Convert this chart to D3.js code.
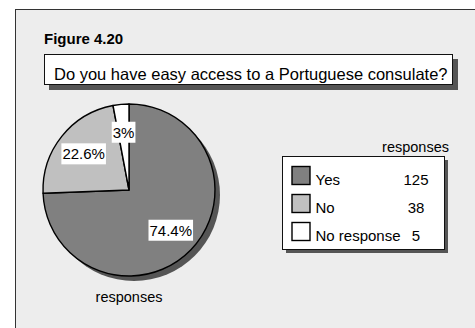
<!DOCTYPE html>
<html>
<head>
<meta charset="utf-8">
<script src="https://cdn.jsdelivr.net/npm/d3@7"></script>
<style>
  html, body { margin: 0; padding: 0; background: #fff; }
  svg { display: block; font-family: "Liberation Sans", Arial, Helvetica, sans-serif; }
</style>
</head>
<body>
<div id="chart"></div>
<script>
// data
var categories = ["Yes", "No", "No response"]
var responses = [125, 38, 5]
var sliceColors = ["#808080", "#c0c0c0", "#ffffff"]
var figureLabel = "Figure 4.20"
var question = "Do you have easy access to a Portuguese consulate?"
var seriesName = "responses"

var width = 475, height = 328
var total = d3.sum(responses)
var pct = d3.format(".1~f")

var svg = d3.select("#chart").append("svg")
    .attr("width", width)
    .attr("height", height)

// outer frame (runs off the right / bottom of the window)
svg.append("rect")
    .attr("x", 15.5).attr("y", 9.5)
    .attr("width", width).attr("height", height)
    .style("fill", "#ededed")
    .style("stroke", "#333")
    .style("stroke-width", 1)

svg.append("text")
    .attr("x", 44).attr("y", 43.5)
    .style("font-size", "15px")
    .style("font-weight", "bold")
    .text(figureLabel)

// title box with shadow
svg.append("rect")
    .attr("x", 49).attr("y", 59)
    .attr("width", 409).attr("height", 31)
    .style("fill", "#555")
svg.append("rect")
    .attr("x", 44.5).attr("y", 54.5)
    .attr("width", 408).attr("height", 30)
    .style("fill", "#fff")
    .style("stroke", "#111")
    .style("stroke-width", 1)
svg.append("text")
    .attr("x", 54).attr("y", 79.5)
    .style("font-size", "16.5px")
    .text(question)

// pie
var cx = 129, cy = 190, r = 86
var pie = d3.pie().sort(null).value(d => d)
var arcs = pie(responses)
var arc = d3.arc().innerRadius(0).outerRadius(r)
var labelArc = d3.arc().innerRadius(58).outerRadius(58)

var g = svg.append("g").attr("transform", "translate(" + cx + "," + cy + ")")

g.append("circle")
    .attr("cx", 5).attr("cy", 5).attr("r", r)
    .style("fill", "#555")

g.selectAll("path.slice")
    .data(arcs)
    .enter()
    .append("path")
    .attr("class", "slice")
    .attr("d", arc)
    .style("fill", (d, i) => sliceColors[i])
    .style("stroke", "#000")
    .style("stroke-width", 1.4)
    .style("stroke-linejoin", "round")

var labels = g.selectAll("g.lab")
    .data(arcs)
    .enter()
    .append("g")
    .attr("class", "lab")
    .attr("transform", d => "translate(" + labelArc.centroid(d) + ")")

labels.each(function(d) {
    var lg = d3.select(this)
    var t = lg.append("text")
        .attr("text-anchor", "middle")
        .attr("y", 5.5)
        .style("font-size", "15px")
        .text(pct(d.value / total * 100) + "%")
    var bb = t.node().getBBox()
    lg.insert("rect", "text")
        .attr("x", bb.x - 1).attr("y", -10.5)
        .attr("width", bb.width + 2).attr("height", 21)
        .style("fill", "#fff")
})

svg.append("text")
    .attr("x", cx).attr("y", 302)
    .attr("text-anchor", "middle")
    .style("font-size", "14.5px")
    .text(seriesName)

// legend
var lx = 282.5, ly = 156.5, lw = 162, lh = 93
svg.append("text")
    .attr("x", 449).attr("y", 152)
    .attr("text-anchor", "end")
    .style("font-size", "14.5px")
    .text(seriesName)
svg.append("rect")
    .attr("x", lx + 3.5).attr("y", ly + 3.5)
    .attr("width", lw).attr("height", lh)
    .style("fill", "#555")
svg.append("rect")
    .attr("x", lx).attr("y", ly)
    .attr("width", lw).attr("height", lh)
    .style("fill", "#fff")
    .style("stroke", "#111")

var rowY = d3.scalePoint().domain(categories).range([166, 222])

var item = svg.selectAll("g.item")
    .data(categories)
    .enter()
    .append("g")
    .attr("class", "item")
    .attr("transform", d => "translate(0," + rowY(d) + ")")

item.append("rect")
    .attr("x", 292).attr("y", 0.5)
    .attr("width", 18).attr("height", 18)
    .style("fill", (d, i) => sliceColors[i])
    .style("stroke", "#000")
    .style("stroke-width", 1.4)
item.append("text")
    .attr("x", 315.5).attr("y", 19)
    .style("font-size", "15px")
    .text(d => d)
item.append("text")
    .attr("x", 416).attr("y", 19)
    .attr("text-anchor", "middle")
    .style("font-size", "15px")
    .text((d, i) => responses[i])
</script>
</body>
</html>
